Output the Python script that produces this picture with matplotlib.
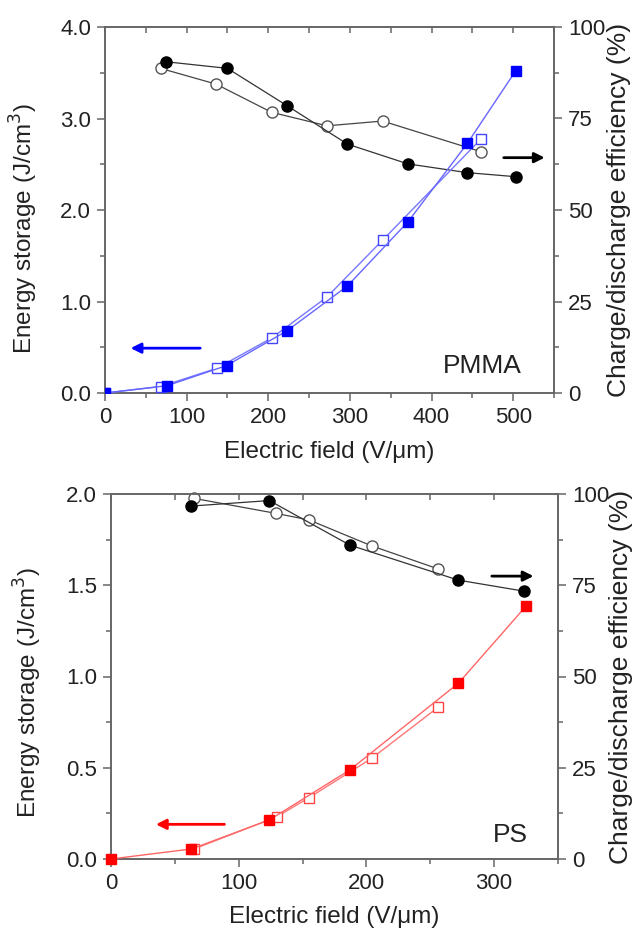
import matplotlib.pyplot as plt
import numpy as np

plt.rcParams['font.family'] = ['Liberation Sans', 'DejaVu Sans']

# PMMA panel
pmma_e_filled = [0, 76, 149, 223, 297, 371, 444, 503]
pmma_w_filled = [0.0, 0.08, 0.30, 0.68, 1.17, 1.87, 2.73, 3.52]
pmma_e_open = [0, 68, 137, 204, 272, 340, 461]
pmma_w_open = [0.0, 0.07, 0.27, 0.60, 1.05, 1.67, 2.78]
pmma_eff_e_filled = [75, 150, 223, 297, 371, 444, 503]
pmma_eff_filled = [90.5, 88.7, 78.5, 68.0, 62.6, 60.2, 59.1]
pmma_eff_e_open = [68, 136, 204, 272, 340, 461]
pmma_eff_open = [88.7, 84.4, 76.7, 73.0, 74.3, 65.9]

# PS panel
ps_e_filled = [0, 63, 124, 187, 272, 325]
ps_w_filled = [0.0, 0.055, 0.214, 0.488, 0.963, 1.386]
ps_e_open = [65, 130, 155, 204, 256]
ps_w_open = [0.055, 0.232, 0.336, 0.551, 0.831]
ps_eff_e_filled = [63, 124, 187, 272, 323]
ps_eff_filled = [96.7, 98.2, 86.0, 76.4, 73.4]
ps_eff_e_open = [65, 129, 155, 204, 256]
ps_eff_open = [98.8, 94.7, 92.9, 85.8, 79.5]

fig = plt.figure(figsize=(6.34, 9.35), dpi=100)
ax1 = fig.add_axes([105/634, 1-393/935, 449/634, 366/935])
ax2 = fig.add_axes([111/634, 1-859/935, 447/634, 365/935])

spine_c = '#666666'
txt_c = '#222222'
lab_fs = 17.5
rlab_fs = 19
tick_fs = 16


def style(ax, ax_r, xmax, xmaj, ymax, ymaj, xlab_y, ylab_x, ylab_y, rlab_x):
    ax.set_xlim(0, xmax)
    ax.set_ylim(0, ymax)
    ax_r.set_ylim(0, 100)
    ax.set_xticks(np.arange(0, xmax, xmaj))
    ax.set_xticks(np.arange(0, xmax + 1, xmaj / 2), minor=True)
    yt = np.arange(0, ymax + 0.001, ymaj)
    ax.set_yticks(yt)
    ax.set_yticklabels(['{:.1f}'.format(v) for v in yt])
    ax.set_yticks(np.arange(0, ymax + 0.001, ymaj / 2), minor=True)
    ax_r.set_yticks([0, 25, 50, 75, 100])
    ax_r.set_yticks(np.arange(0, 101, 12.5), minor=True)
    for a in (ax, ax_r):
        for s in a.spines.values():
            s.set_color(spine_c)
            s.set_linewidth(1.2)
    ax.tick_params(axis='both', which='both', direction='out', color=spine_c,
                   labelsize=tick_fs, labelcolor=txt_c, width=1.1, pad=4)
    ax.tick_params(which='major', length=6)
    ax.tick_params(which='minor', length=3.5)
    ax_r.tick_params(axis='y', which='both', direction='out', color=spine_c,
                     labelsize=tick_fs, labelcolor=txt_c, width=1.1, pad=4)
    ax_r.tick_params(which='major', length=6)
    ax_r.tick_params(which='minor', length=3.5)
    # inward ticks along the top edge
    top = ax.secondary_xaxis('top')
    top.set_xticks(np.arange(0, xmax + 1, xmaj / 2))
    top.tick_params(direction='in', length=4, color=spine_c, width=1.1,
                    labeltop=False)
    top.spines['top'].set_visible(False)
    ax.set_xlabel('Electric field (V/\u03bcm)', fontsize=lab_fs, color=txt_c)
    ax.xaxis.set_label_coords(0.5, xlab_y)
    ax.set_ylabel('Energy storage (J/cm$^3$)', fontsize=lab_fs, color=txt_c)
    ax.yaxis.set_label_coords(ylab_x, ylab_y)
    ax_r.set_ylabel('Charge/discharge efficiency (%)', fontsize=rlab_fs,
                    color=txt_c, rotation=90, va='center')
    ax_r.yaxis.set_label_coords(rlab_x, 0.5)


# PMMA
ax1r = ax1.twinx()
ax1r.plot(pmma_eff_e_open, pmma_eff_open, '-o', color='#444444', lw=0.9, ms=8,
          mfc='white', mec='#555555', mew=1.0)
ax1r.plot(pmma_eff_e_filled, pmma_eff_filled, '-o', color='#333333', lw=0.9, ms=8,
          mfc='black', mec='black')
ax1.plot(pmma_e_open, pmma_w_open, '-s', color='#7777ff', lw=1.0, ms=7.5,
         mfc='white', mec='#4444ff', mew=1.0, zorder=3)
ax1.plot(pmma_e_filled, pmma_w_filled, '-s', color='#6666ff', lw=1.0, ms=7.5,
         mfc='#0000ff', mec='#0000ff', zorder=4)
ax1.set_zorder(ax1r.get_zorder() + 1)
ax1.patch.set_visible(False)
style(ax1, ax1r, 550, 100, 4.0, 1.0, -0.13, -0.145, 0.45, 1.145)
ax1.annotate('', xy=(28, 0.49), xytext=(120, 0.49),
             arrowprops=dict(arrowstyle='-|>', color='#0000ff', lw=2, mutation_scale=15))
ax1r.annotate('', xy=(542, 64.3), xytext=(485, 64.3),
              arrowprops=dict(arrowstyle='-|>', color='black', lw=2, mutation_scale=15))
ax1.text(462, 0.29, 'PMMA', fontsize=19, color=txt_c, ha='center', va='center')

# PS
ax2r = ax2.twinx()
ax2r.plot(ps_eff_e_open, ps_eff_open, '-o', color='#444444', lw=0.9, ms=8,
          mfc='white', mec='#555555', mew=1.0, clip_on=False)
ax2r.plot(ps_eff_e_filled, ps_eff_filled, '-o', color='#333333', lw=0.9, ms=8,
          mfc='black', mec='black', clip_on=False)
ax2.plot(ps_e_open, ps_w_open, '-s', color='#ff7777', lw=1.0, ms=7.5,
         mfc='white', mec='#ff4444', mew=1.0, zorder=3)
ax2.plot(ps_e_filled, ps_w_filled, '-s', color='#ff6666', lw=1.0, ms=7.5,
         mfc='#ff0000', mec='#ff0000', zorder=4, clip_on=False)
ax2.set_zorder(ax2r.get_zorder() + 1)
ax2.patch.set_visible(False)
style(ax2, ax2r, 350, 100, 2.0, 0.5, -0.13, -0.15, 0.455, 1.14)
ax2.annotate('', xy=(33, 0.19), xytext=(91, 0.19),
             arrowprops=dict(arrowstyle='-|>', color='#ff0000', lw=2, mutation_scale=15))
ax2r.annotate('', xy=(333, 77.5), xytext=(296, 77.5),
              arrowprops=dict(arrowstyle='-|>', color='black', lw=2, mutation_scale=15))
ax2.text(313, 0.13, 'PS', fontsize=19, color=txt_c, ha='center', va='center')

fig.savefig('out.png', dpi=100)
